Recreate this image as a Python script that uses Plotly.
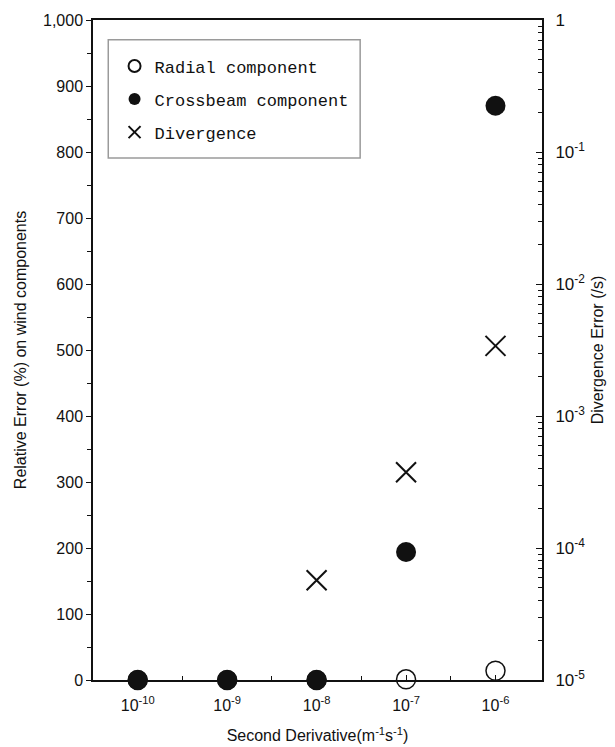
import plotly.graph_objects as go

# Second-derivative magnitudes on the x axis (categorical positions 0..4)
derivative_labels = ["10<sup>-10</sup>", "10<sup>-9</sup>", "10<sup>-8</sup>",
                     "10<sup>-7</sup>", "10<sup>-6</sup>"]
x_pos = [0, 1, 2, 3, 4]

# Relative error (%) on wind components
radial_error = [0, 0, 0, 1, 14]
crossbeam_error = [0, 0, 0, 194, 870]

# Divergence error (/s), log scale on the right axis
divergence_error = [None, None, 5.7e-5, 3.75e-4, 3.4e-3]

left_ticks = [0, 100, 200, 300, 400, 500, 600, 700, 800, 900, 1000]
right_tickvals = [1e-5, 1e-4, 1e-3, 1e-2, 1e-1, 1]
right_ticktext = ["10<sup>-5</sup>", "10<sup>-4</sup>", "10<sup>-3</sup>",
                  "10<sup>-2</sup>", "10<sup>-1</sup>", "1"]

# minor tick positions: every 50 on the left, 2..9 per decade on the right
left_minor = [v + 50 for v in left_ticks[:-1]]
right_minor = [m * 10.0 ** e for e in range(-5, 0) for m in range(2, 10)]

FONT = "Liberation Sans, Arial, sans-serif"
INK = "#111111"

fig = go.Figure()

fig.add_trace(go.Scatter(
    x=x_pos, y=radial_error, mode="markers", name="Radial component",
    legendgroup="a", cliponaxis=False,
    marker=dict(symbol="circle-open", size=19, color=INK, line=dict(width=1.5, color=INK)),
))
fig.add_trace(go.Scatter(
    x=x_pos, y=crossbeam_error, mode="markers", name="Crossbeam component",
    legendgroup="b", cliponaxis=False,
    marker=dict(symbol="circle", size=20, color=INK),
))
fig.add_trace(go.Scatter(
    x=x_pos, y=divergence_error, mode="markers", name="Divergence",
    legendgroup="c", cliponaxis=False, yaxis="y2",
    marker=dict(symbol="x-thin-open", size=20, color=INK, line=dict(width=2, color=INK)),
))

# legend frame
fig.add_shape(type="rect", xref="paper", yref="paper",
              x0=0.034, x1=0.595, y0=0.791, y1=0.970,
              line=dict(color="#9a9a9a", width=1.5), fillcolor="white", layer="below")

fig.update_layout(
    width=615, height=747,
    margin=dict(l=93, r=73, t=20, b=67),
    paper_bgcolor="white", plot_bgcolor="white",
    font=dict(family=FONT, size=16, color=INK),
    showlegend=True,
    legend=dict(
        x=0.048, y=0.957, xanchor="left", yanchor="top",
        bgcolor="rgba(0,0,0,0)", borderwidth=0,
        font=dict(family="Liberation Mono, DejaVu Sans Mono, monospace", size=17, color=INK),
        traceorder="grouped", tracegroupgap=8,
        itemsizing="constant",
    ),
    xaxis=dict(
        range=[-0.5, 4.52], automargin=False,
        tickmode="array", tickvals=x_pos, ticktext=derivative_labels,
        ticks="inside", ticklen=5, tickcolor=INK,
        showline=True, linecolor=INK, linewidth=2, mirror=True,
        showgrid=False, zeroline=False,
        tickfont=dict(size=16), ticklabelstandoff=10,
        minor=dict(tickmode="array", tickvals=[0.5, 1.5, 2.5, 3.5],
                   ticks="inside", ticklen=4, tickcolor=INK),
        title=dict(text="Second Derivative(m<sup>-1</sup>s<sup>-1</sup>)",
                   font=dict(size=16), standoff=17),
    ),
    yaxis=dict(
        range=[0, 1000], automargin=False,
        tickmode="array", tickvals=left_ticks, tickformat=",",
        ticks="outside", ticklen=5, tickcolor=INK,
        showline=True, linecolor=INK, linewidth=1.5,
        showgrid=False, zeroline=False,
        tickfont=dict(size=16),
        minor=dict(tickmode="array", tickvals=left_minor,
                   ticks="outside", ticklen=4, tickcolor=INK),
        title=dict(text="Relative Error (%) on wind components",
                   font=dict(size=16), standoff=12),
    ),
    yaxis2=dict(
        type="log", range=[-5, 0], overlaying="y", side="right", automargin=False,
        tickmode="array", tickvals=right_tickvals, ticktext=right_ticktext,
        ticks="inside", ticklen=6, tickcolor=INK,
        showline=True, linecolor=INK, linewidth=2,
        showgrid=False, zeroline=False,
        tickfont=dict(size=17), ticklabelstandoff=8,
        minor=dict(tickmode="array", tickvals=right_minor,
                   ticks="inside", ticklen=4, tickcolor=INK),
        title=dict(text="Divergence Error (/s)", font=dict(size=16), standoff=8),
    ),
)

fig.write_html("out.html")
